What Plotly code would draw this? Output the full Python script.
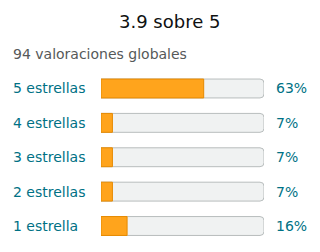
import plotly.graph_objects as go

labels = ["5 estrellas", "4 estrellas", "3 estrellas", "2 estrellas", "1 estrella"]
percents = [63, 7, 7, 7, 16]
title_text = "3.9 sobre 5"
subtitle_text = "94 valoraciones globales"

ypos = list(range(len(labels)))[::-1]  # top row first

fig = go.Figure()
fig.add_trace(go.Bar(
    y=ypos, x=[100] * len(labels), orientation="h",
    marker=dict(color="#F0F2F2", line=dict(color="#B8BDBD", width=1), cornerradius=4),
    width=0.55, hoverinfo="skip", showlegend=False,
))
fig.add_trace(go.Bar(
    y=ypos, x=percents, orientation="h",
    marker=dict(color="#FFA41C", line=dict(color="#E68A00", width=1), cornerradius=3),
    width=0.55, hoverinfo="skip", showlegend=False,
))

for yv, lab, p in zip(ypos, labels, percents):
    fig.add_annotation(x=12 / 320, y=yv, xref="paper", yref="y", text=lab,
                       showarrow=False, xanchor="left", yanchor="middle", borderpad=0,
                       font=dict(family="DejaVu Sans", size=14, color="#007185"))
    fig.add_annotation(x=275 / 320, y=yv, xref="paper", yref="y", text=f"{p}%",
                       showarrow=False, xanchor="left", yanchor="middle", borderpad=0,
                       font=dict(family="DejaVu Sans", size=14, color="#007185"))

fig.add_annotation(x=169 / 320, y=1 - 21 / 252, xref="paper", yref="paper", text=title_text,
                   showarrow=False, xanchor="center", yanchor="middle",
                   font=dict(family="DejaVu Sans", size=18, color="#0F1111"))
fig.add_annotation(x=12 / 320, y=1 - 54 / 252, xref="paper", yref="paper", text=subtitle_text,
                   showarrow=False, xanchor="left", yanchor="middle", borderpad=0,
                   font=dict(family="DejaVu Sans", size=14, color="#565959"))

fig.update_layout(
    width=320, height=252, margin=dict(l=0, r=0, t=0, b=0),
    paper_bgcolor="white", plot_bgcolor="white",
    barmode="overlay",
    xaxis=dict(domain=[101 / 320, 264 / 320], range=[0, 100], visible=False, fixedrange=True),
    yaxis=dict(domain=[(252 - 243.2) / 252, (252 - 71.3) / 252], range=[-0.5, 4.5],
               visible=False, fixedrange=True),
)

fig.write_html("out.html", config={"displayModeBar": False})
